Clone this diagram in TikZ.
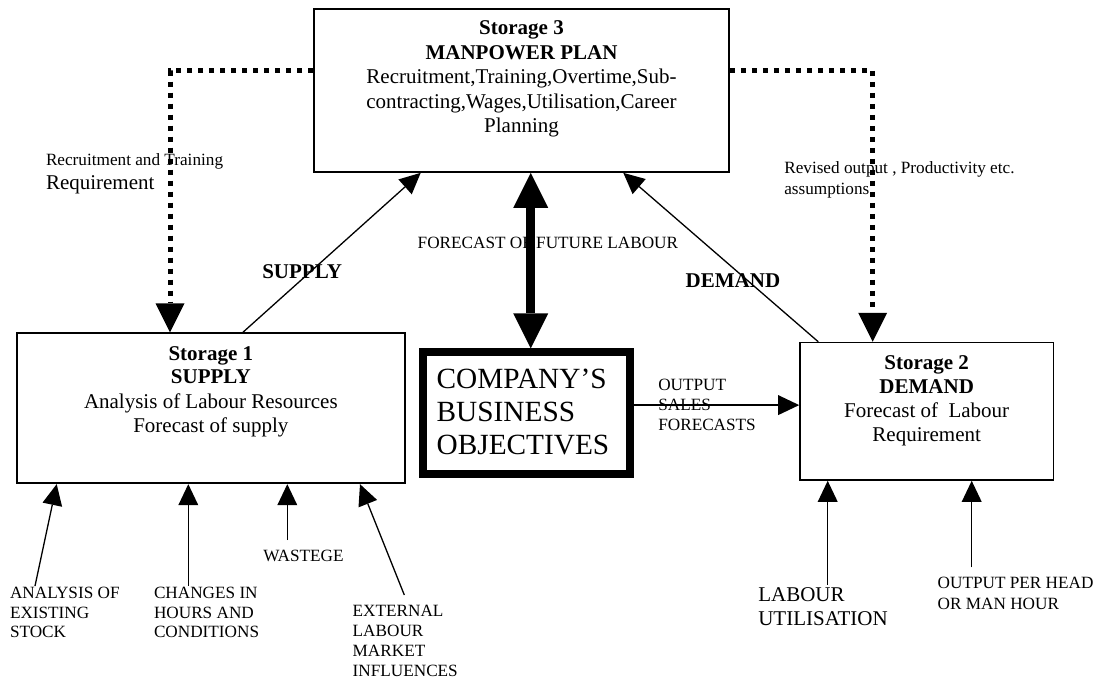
\documentclass[tikz,border=0pt]{standalone}
\usepackage{fontspec}
\setmainfont{Liberation Serif}
\usetikzlibrary{arrows.meta,calc}
\newcommand\mylines[2]{\begin{tabular}[t]{@{}#1@{}}#2\end{tabular}}
\newcommand\fmain{\fontsize{21}{24}\selectfont}
\newcommand\fsmall{\fontsize{17.2}{20}\selectfont}
\newcommand\fbig{\fontsize{29.3}{33.3}\selectfont}
\tikzset{
  boxstyle/.style={draw, line width=1.7pt, inner sep=0pt},
  bigbox/.style={draw, line width=8pt, inner sep=0pt},
  txt/.style={inner sep=0pt, outer sep=0pt},
  arr/.style={line width=1.3pt, -{Triangle[width=20pt,length=21pt,line width=0pt]}},
  dotarr/.style={line width=5pt, dash pattern=on 5pt off 6pt, -{Triangle[width=29pt,length=29pt,line width=0pt]}},
  dblarr/.style={line width=9pt, {Triangle[width=35pt,length=35pt,line width=0pt]}-{Triangle[width=35pt,length=35pt,line width=0pt]}}
}
\begin{document}
\begin{tikzpicture}[x=1pt,y=-1pt]
\useasboundingbox (0,0) rectangle (1096,679);
\fill[white] (0,0) rectangle (1096,679);
% boxes
\node[boxstyle, minimum width=415pt, minimum height=163pt] (s3) at (521.5,90.5) {};
\node[boxstyle, minimum width=388.3pt, minimum height=150pt] (s1) at (210.85,408.3) {};
\node[boxstyle, minimum width=253.3pt, minimum height=137.3pt] (s2) at (926.7,411.3) {};
\node[bigbox, minimum width=207pt, minimum height=121.4pt] (cb) at (526,413.1) {};
% box texts
\node[txt, anchor=base] (s3t) at (521.5,35) {\fontsize{21}{24.5}\selectfont\mylines{c}{\textbf{Storage 3}\\ \textbf{MANPOWER PLAN}\\ Recruitment,Training,Overtime,Sub-\\ contracting,Wages,Utilisation,Career\\ Planning}};
\node[txt, anchor=base] (s1t) at (210.85,360) {\fmain\mylines{c}{\textbf{Storage 1}\\ \textbf{SUPPLY}\\ Analysis of Labour Resources\\ Forecast of supply}};
\node[txt, anchor=base] (s2t) at (926.7,369.3) {\fmain\mylines{c}{\textbf{Storage 2}\\ \textbf{DEMAND}\\ Forecast of~ Labour\\ Requirement}};
\node[txt, anchor=base west] (cbt) at (436.7,388.3) {\fbig\mylines{l}{COMPANY’S\\ BUSINESS\\ OBJECTIVES}};
% connectors between boxes
\draw[arr] ([xshift=31.9pt]s1.north) -- ([xshift=-100.8pt]s3.south);
\draw[arr] ([xshift=-108.4pt]s2.north) -- ([xshift=101.8pt]s3.south);
\draw[dblarr] ([xshift=9.2pt]s3.south) -- ([xshift=4.7pt]cb.north);
\draw[dotarr] ([yshift=-62.7pt]s3.north west) -| ([xshift=-40.85pt]s1.north);
\draw[dotarr] ([yshift=-62.7pt]s3.north east) -| ([xshift=-54pt]s2.north);
\coordinate (o1) at ([yshift=8pt]cb.east);
\draw[arr] (o1) -- (o1 -| s2.west);
% bottom inputs
\coordinate (t1) at (35,586);
\coordinate (t2) at (188.3,586);
\coordinate (t3) at (287.3,540);
\coordinate (t4) at (404.3,595);
\coordinate (t5) at (827.7,585);
\coordinate (t6) at (971.7,567.3);
\draw[arr] (t1) -- ([xshift=-154.15pt]s1.south);
\draw[arr] (t2) -- ([xshift=-22.55pt]s1.south);
\draw[arr] (t3) -- ([xshift=76.45pt]s1.south);
\draw[arr] (t4) -- ([xshift=149.15pt]s1.south);
\draw[arr] (t5) -- ([xshift=-99pt]s2.south);
\draw[arr] (t6) -- ([xshift=45pt]s2.south);
% labels
\node[txt, anchor=base west] (l1) at (46,165.7) {\fsmall Recruitment and Training};
\node[txt, anchor=base west] (l2) at (46,189.3) {\fmain Requirement};
\node[txt, anchor=base west] (l3) at (784.3,174) {\fontsize{17.2}{21}\selectfont\mylines{l}{Revised output , Productivity etc.\\ assumptions}};
\node[txt, anchor=base west] (l4) at (262.3,278.3) {\fmain\bfseries SUPPLY};
\node[txt, anchor=base west] (l5) at (685.7,287.3) {\fmain\bfseries DEMAND};
\node[txt, anchor=base west] (l6) at (417.7,248.3) {\fsmall FORECAST OF FUTURE LABOUR};
\node[txt, anchor=base west] (l7) at (658.3,390) {\fontsize{17.2}{20.3}\selectfont\mylines{l}{OUTPUT\\ SALES\\ FORECASTS}};
\node[txt, anchor=base west] (l8) at (10,598.3) {\fontsize{17.2}{19.7}\selectfont\mylines{l}{ANALYSIS OF\\ EXISTING\\ STOCK}};
\node[txt, anchor=base west] (l9) at (154,598.3) {\fontsize{17.2}{19.7}\selectfont\mylines{l}{CHANGES IN\\ HOURS AND\\ CONDITIONS}};
\node[txt, anchor=base west] (l10) at (263.3,561.7) {\fsmall WASTEGE};
\node[txt, anchor=base west] (l11) at (352.7,616.7) {\fontsize{17.2}{19.8}\selectfont\mylines{l}{EXTERNAL\\ LABOUR\\ MARKET\\ INFLUENCES}};
\node[txt, anchor=base west] (l12) at (758.3,601) {\fmain\mylines{l}{LABOUR\\ UTILISATION}};
\node[txt, anchor=base west] (l13) at (937.7,588.3) {\fontsize{17.2}{20.7}\selectfont\mylines{l}{OUTPUT PER HEAD\\ OR MAN HOUR}};
\end{tikzpicture}
\end{document}
